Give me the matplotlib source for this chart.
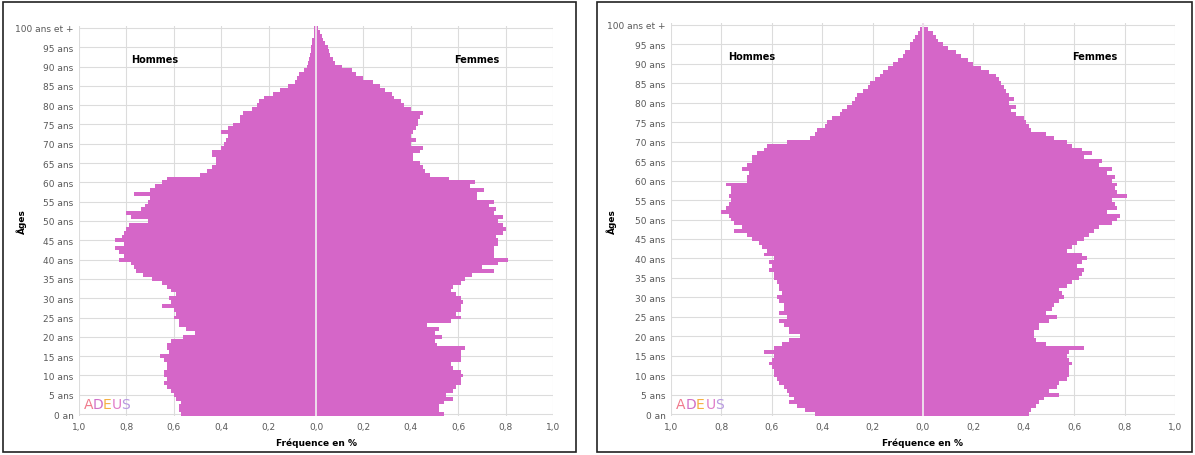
import numpy as np
import matplotlib
matplotlib.use("Agg")
import matplotlib.pyplot as plt
from matplotlib.patches import Rectangle

# ages 0 .. 100 (100 = "100 ans et +")
ages = list(range(101))

# panneau gauche : frequence en % par age
hommes_1 = [0.57, 0.58, 0.58, 0.57, 0.59, 0.60, 0.61, 0.63, 0.64, 0.63,
            0.64, 0.64, 0.63, 0.63, 0.64, 0.66, 0.62, 0.63, 0.63, 0.61,
            0.56, 0.51, 0.55, 0.58, 0.58, 0.60, 0.59, 0.60, 0.65, 0.61,
            0.62, 0.59, 0.61, 0.63, 0.65, 0.69, 0.73, 0.76, 0.77, 0.78,
            0.83, 0.81, 0.83, 0.85, 0.81, 0.85, 0.82, 0.81, 0.80, 0.79,
            0.71, 0.78, 0.80, 0.74, 0.72, 0.71, 0.70, 0.77, 0.70, 0.68,
            0.65, 0.63, 0.49, 0.46, 0.44, 0.42, 0.42, 0.44, 0.44, 0.40,
            0.39, 0.38, 0.37, 0.40, 0.37, 0.35, 0.32, 0.32, 0.31, 0.27,
            0.25, 0.24, 0.22, 0.18, 0.15, 0.12, 0.09, 0.08, 0.07, 0.05,
            0.04, 0.035, 0.03, 0.025, 0.02, 0.02, 0.015, 0.015, 0.01, 0.01,
            0.01]
femmes_1 = [0.54, 0.52, 0.52, 0.54, 0.58, 0.55, 0.58, 0.59, 0.61, 0.61,
            0.62, 0.61, 0.58, 0.57, 0.61, 0.61, 0.61, 0.63, 0.51, 0.50,
            0.53, 0.50, 0.52, 0.47, 0.57, 0.61, 0.59, 0.61, 0.61, 0.62,
            0.61, 0.59, 0.57, 0.58, 0.61, 0.63, 0.66, 0.75, 0.70, 0.77,
            0.81, 0.75, 0.75, 0.75, 0.77, 0.77, 0.76, 0.79, 0.80, 0.79,
            0.77, 0.79, 0.75, 0.76, 0.73, 0.75, 0.68, 0.68, 0.71, 0.65,
            0.67, 0.56, 0.48, 0.46, 0.45, 0.44, 0.41, 0.41, 0.44, 0.45,
            0.40, 0.42, 0.40, 0.41, 0.42, 0.43, 0.43, 0.44, 0.45, 0.40,
            0.37, 0.36, 0.33, 0.32, 0.29, 0.27, 0.24, 0.20, 0.17, 0.15,
            0.11, 0.08, 0.07, 0.06, 0.055, 0.05, 0.04, 0.03, 0.025, 0.017,
            0.01]

# panneau droit
hommes_2 = [0.43, 0.47, 0.50, 0.53, 0.51, 0.53, 0.54, 0.55, 0.57, 0.58,
            0.59, 0.59, 0.60, 0.61, 0.60, 0.59, 0.63, 0.59, 0.56, 0.53,
            0.49, 0.53, 0.53, 0.55, 0.57, 0.54, 0.57, 0.55, 0.55, 0.57,
            0.58, 0.56, 0.57, 0.57, 0.58, 0.59, 0.59, 0.61, 0.60, 0.61,
            0.59, 0.63, 0.62, 0.64, 0.65, 0.68, 0.70, 0.75, 0.72, 0.75,
            0.76, 0.77, 0.80, 0.78, 0.77, 0.76, 0.77, 0.76, 0.76, 0.78,
            0.70, 0.70, 0.69, 0.72, 0.70, 0.68, 0.68, 0.66, 0.63, 0.62,
            0.54, 0.45, 0.43, 0.42, 0.39, 0.38, 0.36, 0.33, 0.32, 0.30,
            0.28, 0.27, 0.26, 0.24, 0.22, 0.21, 0.19, 0.17, 0.16, 0.14,
            0.12, 0.10, 0.08, 0.07, 0.05, 0.05, 0.04, 0.03, 0.02, 0.01,
            0.005]
femmes_2 = [0.42, 0.43, 0.45, 0.46, 0.48, 0.54, 0.50, 0.53, 0.54, 0.57,
            0.58, 0.58, 0.58, 0.59, 0.58, 0.57, 0.58, 0.64, 0.49, 0.45,
            0.44, 0.44, 0.46, 0.46, 0.50, 0.53, 0.49, 0.51, 0.52, 0.54,
            0.56, 0.55, 0.54, 0.57, 0.59, 0.62, 0.63, 0.64, 0.61, 0.63,
            0.65, 0.63, 0.57, 0.59, 0.61, 0.64, 0.66, 0.68, 0.70, 0.75,
            0.77, 0.78, 0.73, 0.77, 0.76, 0.75, 0.81, 0.77, 0.76, 0.77,
            0.75, 0.76, 0.73, 0.75, 0.70, 0.71, 0.64, 0.67, 0.63, 0.59,
            0.57, 0.52, 0.49, 0.43, 0.42, 0.41, 0.40, 0.37, 0.35, 0.37,
            0.34, 0.36, 0.34, 0.33, 0.32, 0.31, 0.30, 0.29, 0.26, 0.23,
            0.20, 0.18, 0.15, 0.13, 0.10, 0.08, 0.06, 0.05, 0.04, 0.02,
            0.005]

age_ticks = list(range(0, 101, 5))
age_labels = ["0 an"] + [f"{a} ans" for a in range(5, 100, 5)] + ["100 ans et +"]
x_ticks = [-1.0, -0.8, -0.6, -0.4, -0.2, 0.0, 0.2, 0.4, 0.6, 0.8, 1.0]
x_labels = [f"{abs(v):.1f}".replace(".", ",") for v in x_ticks]

couleur = "#D566C8"
gris = "#DCDCDC"
W, H = 1195, 456

fig = plt.figure(figsize=(W / 100, H / 100), dpi=100)
fig.patch.set_facecolor("white")


def px(x0, y0, x1, y1):
    # boite en pixels (haut-gauche) -> coordonnees figure
    return [x0 / W, 1 - y1 / H, (x1 - x0) / W, (y1 - y0) / H]


def pyramide(box, hommes, femmes, cadre, ylab_x):
    fig.add_artist(Rectangle((cadre[0] / W, 1 - cadre[3] / H),
                             (cadre[2] - cadre[0]) / W, (cadre[3] - cadre[1]) / H,
                             transform=fig.transFigure, fill=False,
                             edgecolor="#222222", lw=1.2))
    ax = fig.add_axes(px(*box))
    ax.barh(ages, [-v for v in hommes], height=1.0, color=couleur, lw=0, zorder=2)
    ax.barh(ages, femmes, height=1.0, color=couleur, lw=0, zorder=2)
    ax.axvline(0, color="#F2F2F2", lw=1.2, zorder=3)
    ax.set_xlim(-1, 1)
    ax.set_ylim(-0.5, 100.5)
    ax.set_xticks(x_ticks)
    ax.set_xticklabels(x_labels, fontsize=6.5, color="#595959")
    ax.set_yticks(age_ticks)
    ax.set_yticklabels(age_labels, fontsize=6.5, color="#595959")
    ax.tick_params(length=0, pad=4)
    ax.grid(True, color=gris, lw=0.8, zorder=0)
    ax.set_axisbelow(True)
    for s in ax.spines.values():
        s.set_visible(False)
    ax.set_xlabel("Fréquence en %", fontsize=6.5, fontweight="bold", labelpad=5)
    ax.text(-0.68, 92, "Hommes", fontsize=7, fontweight="bold", ha="center", va="center")
    ax.text(0.68, 92, "Femmes", fontsize=7, fontweight="bold", ha="center", va="center")
    fig.text(ylab_x / W, 1 - 222 / H, "Âges", rotation=90, fontsize=6.5,
             fontweight="bold", ha="center", va="center")
    # logo ADEUS
    lettres = ["A", "D", "E", "U", "S"]
    couleurs = ["#F07A8C", "#D070C8", "#F5B042", "#E07AC8", "#B89AE0"]
    for i, (l, c) in enumerate(zip(lettres, couleurs)):
        ax.text(-0.98 + i * 0.039, 2.5, l, color=c, fontsize=10, ha="left",
                va="center", zorder=4)
    return ax


pyramide((79, 27, 553, 417), hommes_1, femmes_1, (3, 3, 576, 453), 22)
pyramide((671, 24, 1175, 417), hommes_2, femmes_2, (597, 3, 1192, 453), 612)

fig.savefig("out.png", dpi=100)
